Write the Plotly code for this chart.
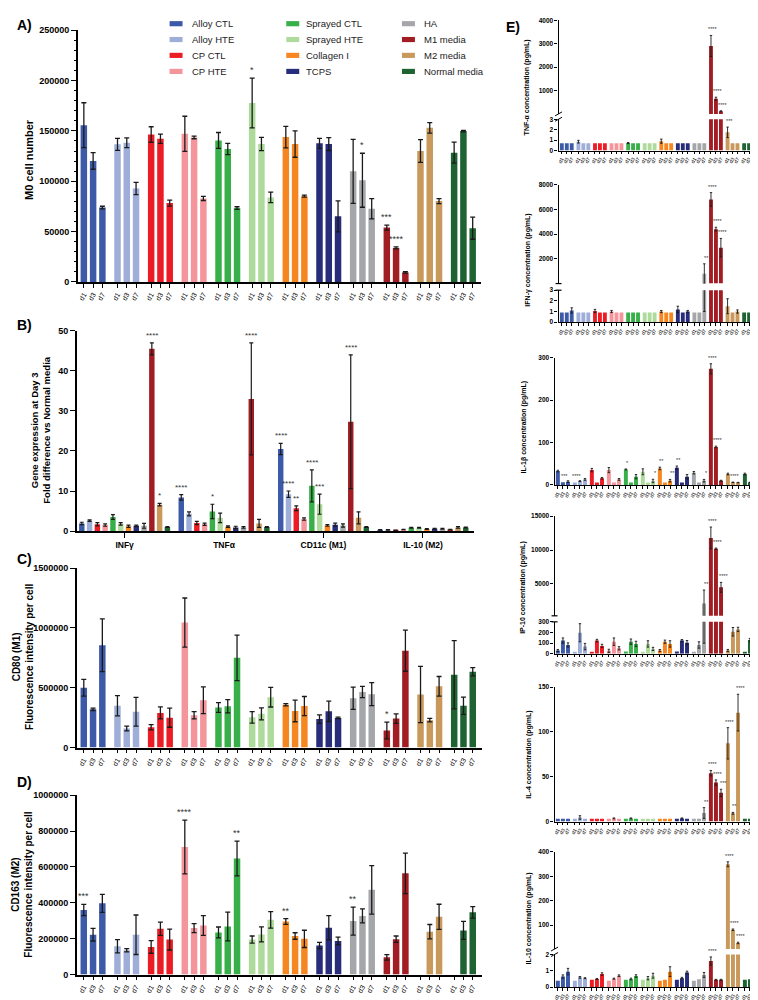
import plotly.graph_objects as go

# ---------------- DATA ----------------
groups = ["Alloy CTL", "Alloy HTE", "CP CTL", "CP HTE", "Sprayed CTL", "Sprayed HTE",
          "Collagen I", "TCPS", "HA", "M1 media", "M2 media", "Normal media"]
colors = ["#3c5aa8", "#9eaed8", "#ec1c24", "#f4959b", "#38b04a", "#aedb9c",
          "#f6861f", "#272c7b", "#a5a6a9", "#a21d23", "#c9995c", "#1e6331"]
days = ["d1", "d3", "d7"]

# A) M0 cell number
A_mean = [[155600, 120200, 73900], [136600, 138200, 92800], [146400, 142200, 78300],
          [147100, 143500, 82900], [140500, 132000, 73400], [177600, 136900, 83900],
          [143800, 136900, 85200], [137600, 136900, 65200], [109800, 101000, 72700],
          [54000, 33800, 9500], [130100, 153000, 80300], [128400, 149800, 53400]]
A_sd = [[22300, 8300, 1300], [5900, 4800, 6000], [7700, 4600, 2900],
        [17400, 1300, 2000], [7900, 5600, 1300], [24700, 6600, 5200],
        [10600, 13100, 1000], [4900, 6400, 15400], [31800, 26800, 10000],
        [2500, 1000, 700], [11300, 5200, 2500], [10500, 700, 11000]]
A_sig = {"Sprayed HTE": ["*", "", ""], "HA": ["", "*", ""], "M1 media": ["***", "****", ""]}

# B) Gene expression at day 3 (fold vs normal media)
B_cats = ["INFγ", "TNFα", "CD11c (M1)", "IL-10 (M2)"]
B_mean = [[1.9, 8.4, 20.5, 0.3], [2.6, 4.3, 9.2, 0.3], [1.7, 2.0, 5.7, 0.2],
          [1.5, 1.7, 3.0, 0.4], [3.5, 4.9, 11.3, 0.8], [1.8, 3.3, 6.7, 0.8],
          [1.2, 1.1, 1.4, 0.5], [1.3, 0.9, 1.6, 0.6], [1.3, 0.9, 1.4, 0.6],
          [45.5, 33.0, 27.3, 0.4], [6.6, 1.9, 3.3, 0.9], [1.0, 1.0, 1.0, 0.9]]
B_sd = [[0.3, 0.7, 1.4, 0.05], [0.2, 0.5, 0.8, 0.05], [0.4, 0.4, 0.6, 0.05],
        [0.3, 0.3, 0.3, 0.05], [0.6, 1.8, 4.0, 0.1], [0.3, 1.2, 2.5, 0.1],
        [0.3, 0.2, 0.2, 0.1], [0.2, 0.3, 0.4, 0.1], [0.6, 0.2, 0.4, 0.1],
        [1.5, 14.0, 16.7, 0.05], [0.3, 1.0, 1.5, 0.2], [0.1, 0.1, 0.1, 0.1]]
B_sig = {"Alloy CTL": ["", "****", "****", ""], "Alloy HTE": ["", "", "****", ""],
         "CP CTL": ["", "", "**", ""], "Sprayed CTL": ["", "*", "****", ""],
         "Sprayed HTE": ["", "", "***", ""], "M1 media": ["****", "****", "****", ""],
         "M2 media": ["*", "", "", ""]}

# C) CD80 (M1) fluorescence intensity per cell
C_mean = [[500000, 320000, 855000], [350000, 160000, 300000], [170000, 290000, 250000],
          [1045000, 270000, 395000], [335000, 345000, 750000], [253000, 282000, 421000],
          [358000, 306000, 347000], [238000, 303000, 248000], [413000, 465000, 446000],
          [142000, 242000, 810000], [444000, 229000, 512000], [609000, 350000, 634000]]
C_sd = [[70000, 10000, 220000], [85000, 20000, 120000], [22000, 50000, 80000],
        [205000, 30000, 112000], [40000, 55000, 190000], [48000, 50000, 82000],
        [10000, 90000, 80000], [35000, 85000, 6000], [93000, 47000, 96000],
        [70000, 40000, 172000], [235000, 15000, 82000], [285000, 72000, 35000]]
C_sig = {"M1 media": ["*", "", ""]}

# D) CD163 (M2) fluorescence intensity per cell
D_mean = [[360000, 222000, 397000], [158000, 136000, 222000], [154000, 255000, 195000],
          [711000, 259000, 274000], [235000, 268000, 647000], [195000, 224000, 305000],
          [296000, 215000, 199000], [162000, 261000, 187000], [298000, 327000, 472000],
          [96000, 197000, 564000], [None, 239000, 322000], [None, 246000, 347000]]
D_sd = [[31000, 35000, 50000], [37000, 9000, 110000], [35000, 37000, 58000],
        [150000, 25000, 55000], [30000, 80000, 97000], [20000, 42000, 46000],
        [16000, 18000, 48000], [17000, 68000, 22000], [78000, 39000, 135000],
        [15000, 18000, 113000], [0, 40000, 70000], [0, 50000, 32000]]
D_sig = {"Alloy CTL": ["***", "", ""], "CP HTE": ["****", "", ""], "Sprayed CTL": ["", "", "**"],
         "Collagen I": ["**", "", ""], "HA": ["**", "", ""]}

# E) Cytokine concentrations (pg/mL)
TNF_mean = [[0.7, 0.7, 0.7], [0.85, 0.7, 0.7], [0.7, 0.7, 0.7], [0.7, 0.7, 0.7],
            [0.72, 0.7, 0.7], [0.7, 0.7, 0.7], [0.9, 0.7, 0.7], [0.7, 0.7, 0.7],
            [0.7, 0.7, 0.7], [2900, 650, 115], [1.75, 0.7, 0.7], [0.7, 0.7, 0.7]]
TNF_sd = [[0, 0, 0], [0.13, 0, 0], [0, 0, 0], [0, 0, 0], [0.05, 0, 0], [0, 0, 0],
          [0.2, 0, 0], [0, 0, 0], [0, 0, 0], [450, 65, 20], [0.5, 0, 0], [0, 0, 0]]
TNF_sig = {"M1 media": ["****", "****", "****"], "M2 media": ["***", "", ""]}

IFN_mean = [[0.9, 0.9, 1.1], [0.9, 0.9, 0.9], [1.05, 0.9, 0.9], [1.0, 0.9, 0.9],
            [0.9, 0.9, 0.9], [0.9, 0.9, 0.9], [1.0, 0.9, 0.9], [1.2, 0.9, 1.0],
            [0.9, 0.9, 800], [6800, 4400, 2900], [1.5, 0.9, 1.0], [0.9, 0.9, 0.9]]
IFN_sd = [[0, 0, 0.25], [0, 0, 0], [0.15, 0, 0], [0.1, 0, 0], [0, 0, 0], [0, 0, 0],
          [0.1, 0, 0], [0.3, 0, 0.1], [0, 0, 799], [550, 150, 750], [0.7, 0, 0.15], [0, 0, 0]]
IFN_sig = {"HA": ["", "", "**"], "M1 media": ["****", "****", "****"]}

IL1B_mean = [[32.7, 6.2, 7.8], [6.0, 9.0, 13.0], [35.0, 5.5, 15.6], [35.0, 6.0, 13.0],
             [36.6, 5.5, 19.5], [31.0, 5.5, 9.3], [39.0, 6.0, 10.0], [40.5, 6.0, 19.5],
             [28.8, 5.5, 10.0], [274.0, 89.6, 10.0], [25.7, 6.2, 5.5], [25.7, 6.0, 23.4]]
IL1B_sd = [[2, 0, 2], [0, 1, 2], [4, 0, 2], [6, 0, 2], [1, 0, 5], [7, 0, 4],
           [3, 0, 3], [4, 0, 5], [3, 0, 3], [12, 2, 1], [2, 0.5, 0.5], [2, 0.5, 5]]
IL1B_sig = {"Alloy CTL": ["", "***", ""], "Alloy HTE": ["****", "", ""],
            "Sprayed CTL": ["*", "", ""], "Sprayed HTE": ["", "", "*"],
            "Collagen I": ["**", "", "**"], "TCPS": ["**", "", ""], "HA": ["", "", "*"],
            "M1 media": ["****", "****", ""], "M2 media": ["", "****", ""]}

IP10_mean = [[31, 124, 83], [15, 198, 68], [15, 124, 74], [28, 114, 52], [22, 114, 93],
             [15, 93, 46], [31, 114, 93], [22, 124, 105], [15, 83, 2100],
             [11800, 10200, 4500], [31, 207, 229], [15, 130, 136]]
IP10_sd = [[10, 25, 20], [0, 85, 30], [0, 12, 15], [15, 35, 15], [0, 25, 25],
           [0, 30, 15], [10, 15, 30], [0, 10, 20], [0, 30, 2000],
           [1600, 100, 730], [10, 40, 20], [0, 15, 60]]
IP10_sig = {"HA": ["", "", "**"], "M1 media": ["****", "****", "****"]}

IL4_mean = [[3, 3, 3], [3, 4.5, 3], [3, 3, 3], [3, 3.5, 3], [3, 3.5, 3], [3, 3, 3],
            [3, 3, 3], [3, 3.5, 3], [3, 3, 9.5], [54, 43.5, 32], [87.3, 9.2, 121.6],
            [3, 3, 3.5]]
IL4_sd = [[0, 0, 0], [0, 2, 0], [0, 0, 0], [0, 0.5, 0], [0, 0.5, 0], [0, 0, 0],
          [0, 0, 0], [0, 0.5, 0], [0, 0, 6], [3, 3, 4], [17.5, 1, 20.5], [0, 0, 0.5]]
IL4_sig = {"HA": ["", "", "**"], "M1 media": ["****", "****", "***"],
           "M2 media": ["****", "**", "****"]}

IL10_mean = [[0.4, 0.65, 0.95], [0.4, 0.6, 0.55], [0.45, 0.5, 0.8], [0.4, 0.52, 0.7],
             [0.45, 0.5, 0.68], [0.45, 0.55, 0.7], [0.4, 0.45, 0.95], [0.45, 0.55, 0.9],
             [0.4, 0.48, 0.75], [1.6, 0.45, 0.45], [349, 81, 27], [0.45, 0.48, 0.75]]
IL10_sd = [[0, 0.1, 0.2], [0, 0.05, 0.03], [0, 0.03, 0.08], [0, 0.03, 0.05],
           [0, 0.05, 0.08], [0, 0.1, 0.15], [0, 0, 0.3], [0, 0.05, 0.08],
           [0, 0, 0.15], [0.25, 0.03, 0.03], [10, 3, 3], [0, 0, 0.05]]
IL10_sig = {"M1 media": ["****", "", ""], "M2 media": ["****", "****", "****"]}

# ---------------- LAYOUT HELPERS ----------------
W, H = 758, 1000
FONT = "Liberation Sans, Arial, Helvetica, sans-serif"
ERR = "#1a1a1a"


def fx(p):
    return p / W


def fy(p):
    return 1 - p / H


fig = go.Figure()
lay = {}
ann = []
shapes = []
ax_n = [0]


def new_axes(xd, yd):
    ax_n[0] += 1
    n = ax_n[0]
    s = "" if n == 1 else str(n)
    xd["anchor"] = "y" + s
    yd["anchor"] = "x" + s
    lay["xaxis" + s] = xd
    lay["yaxis" + s] = yd
    return "x" + s, "y" + s


def base_axis(lw):
    return dict(showline=True, linecolor="black", linewidth=lw, showgrid=False,
                zeroline=False, ticks="outside", tickcolor="black", fixedrange=True)


def add_bars(xr, yr, xs, ys, sds, color, width, eth, ew, vmin=None):
    keep = [i for i in range(len(xs)) if ys[i] is not None and (vmin is None or ys[i] > vmin)]
    idx_e = [i for i in keep if sds[i]]
    idx_n = [i for i in keep if not sds[i]]
    if idx_e:
        fig.add_trace(go.Bar(
            x=[xs[i] for i in idx_e], y=[ys[i] for i in idx_e], width=width,
            marker=dict(color=color, line=dict(width=0)),
            error_y=dict(type="data", array=[sds[i] for i in idx_e], color=ERR,
                         thickness=eth, width=ew),
            xaxis=xr, yaxis=yr, hoverinfo="skip", showlegend=False))
    if idx_n:
        fig.add_trace(go.Bar(
            x=[xs[i] for i in idx_n], y=[ys[i] for i in idx_n], width=width,
            marker=dict(color=color, line=dict(width=0)),
            xaxis=xr, yaxis=yr, hoverinfo="skip", showlegend=False))


def add_star(xr, yr, x, y, text, size, xshift=0, yshift=0):
    ann.append(dict(x=x, y=y, xref=xr, yref=yr, text=text, showarrow=False,
                    xanchor="center", yanchor="bottom", xshift=xshift, yshift=yshift,
                    font=dict(family=FONT, size=size, color="#333333")))


def ytitle(text, x, y, size, bold=True):
    ann.append(dict(x=fx(x), y=fy(y), xref="paper", yref="paper", text=text,
                    showarrow=False, textangle=-90, xanchor="center", yanchor="middle",
                    font=dict(family=FONT, size=size, color="black",
                              weight="bold" if bold else "normal")))


# ---------------- PANELS A, C, D (12 groups x 3 days) ----------------
GAP3 = 3.63


def tri_panel(mean, sd, sig, ydom_px, yrange, dtick, xrange_, xdom_px, minor=None):
    tickvals = [g * GAP3 + k for g in range(len(groups)) for k in range(3)]
    ticktext = [days[k] for g in range(len(groups)) for k in range(3)]
    xd = base_axis(1.5)
    xd.update(domain=[fx(xdom_px[0]), fx(xdom_px[1])], range=xrange_, tickvals=tickvals,
              ticktext=ticktext, tickangle=-60, ticklen=4, tickwidth=1,
              tickfont=dict(family=FONT, size=7, color="black"))
    yd = base_axis(1.5)
    yd.update(domain=[fy(ydom_px[0]), fy(ydom_px[1])], range=yrange, tick0=0, dtick=dtick,
              tickformat="d", ticklen=5, tickwidth=1.2,
              tickfont=dict(family=FONT, size=9, color="black", weight="bold"))
    if minor:
        yd["minor"] = dict(ticks="outside", dtick=minor, ticklen=2.5, tickwidth=1,
                           tickcolor="black")
    xr, yr = new_axes(xd, yd)
    for g, name in enumerate(groups):
        xs = [g * GAP3 + k for k in range(3)]
        add_bars(xr, yr, xs, mean[g], sd[g], colors[g], 0.7, 1.3, 2.5)
        if name in sig:
            for k, t in enumerate(sig[name]):
                if t and mean[g][k] is not None:
                    add_star(xr, yr, xs[k], mean[g][k] + sd[g][k], t, 9, yshift=1)


tri_panel(A_mean, A_sd, A_sig, (271.7, 17.3), [0, 250000], 50000, [-0.65, 42.8],
          (68, 472), minor=10000)
tri_panel(C_mean, C_sd, C_sig, (742, 560.7), [0, 1500000], 500000, [-0.75, 42.9],
          (67, 473))
tri_panel(D_mean, D_sd, D_sig, (971.3, 790), [0, 1000000], 200000, [-0.75, 42.9],
          (67, 473))

# ---------------- PANEL B ----------------
GAPB = 12.78
xd = base_axis(1.5)
xd.update(domain=[fx(67), fx(465)], range=[-0.64, 50.37],
          tickvals=[c * GAPB + 5.5 for c in range(len(B_cats))], ticktext=B_cats,
          tickangle=0, ticklen=5, tickwidth=1.2,
          tickfont=dict(family=FONT, size=8.5, color="black", weight="bold"))
yd = base_axis(1.5)
yd.update(domain=[fy(523.3), fy(321)], range=[0, 50], tick0=0, dtick=10, ticklen=5,
          tickwidth=1.2, tickfont=dict(family=FONT, size=9, color="black", weight="bold"))
xrB, yrB = new_axes(xd, yd)
for g, name in enumerate(groups):
    xs = [c * GAPB + g for c in range(len(B_cats))]
    add_bars(xrB, yrB, xs, B_mean[g], B_sd[g], colors[g], 0.7, 1.2, 2)
    if name in B_sig:
        for c, t in enumerate(B_sig[name]):
            if t:
                add_star(xrB, yrB, xs[c], B_mean[g][c] + B_sd[g][c], t, 8, yshift=1)

# ---------------- PANEL E (cytokines) ----------------
GAPE = 3.35
NE = 11 * GAPE + 2
XR_E = 750

E_panels = [
    dict(title="TNF-α concentration (pg/mL)", mean=TNF_mean, sd=TNF_sd, sig=TNF_sig,
         xl=550, b0=553.3, b1=746, lo=((139, 107.3), [0, 3], [0, 1, 2, 3]),
         hi=((101.9, 7.3), [3, 4000], [1000, 2000, 3000, 4000]), ty=(518.5, 75), brk="slash"),
    dict(title="IFN-γ concentration (pg/mL)", mean=IFN_mean, sd=IFN_sd, sig=IFN_sig,
         xl=550, b0=553.3, b1=746, lo=((312.3, 280), [0, 3], [0, 1, 2, 3]),
         hi=((273.3, 173.3), [3, 8000], [2000, 4000, 6000, 8000]), ty=(518.5, 250), brk="cap"),
    dict(title="IL-1β concentration (pg/mL)", mean=IL1B_mean, sd=IL1B_sd, sig=IL1B_sig,
         xl=546, b0=549.3, b1=747, lo=((476.7, 348.3), [0, 300], [0, 100, 200, 300]),
         hi=None, ty=(515, 418), brk=None),
    dict(title="IP-10 concentration (pg/mL)", mean=IP10_mean, sd=IP10_sd, sig=IP10_sig,
         xl=546, b0=549.3, b1=747, lo=((647.3, 615), [0, 300], [0, 100, 200, 300]),
         hi=((608.9, 508.3), [300, 15000], [5000, 10000, 15000]), ty=(515, 580), brk="cap"),
    dict(title="IL-4 concentration (pg/mL)", mean=IL4_mean, sd=IL4_sd, sig=IL4_sig,
         xl=546, b0=549.3, b1=747, lo=((816.7, 681), [0, 150], [0, 50, 100, 150]),
         hi=None, ty=(519.5, 749), brk=None),
    dict(title="IL-10 concentration (pg/mL)", mean=IL10_mean, sd=IL10_sd, sig=IL10_sig,
         xl=546, b0=549.3, b1=747, lo=((984, 951), [0, 2], [0, 1, 2]),
         hi=((945.5, 847.3), [2, 400], [100, 200, 300, 400]), ty=(520, 915), brk="slash"),
]

for P in E_panels:
    unit = (P["b1"] - P["b0"]) / NE
    xrng = [(P["xl"] - P["b0"]) / unit, NE + (XR_E - P["b1"]) / unit]
    xdom = [fx(P["xl"]), fx(XR_E)]
    tickvals = [g * GAPE + k for g in range(len(groups)) for k in range(3)]
    ticktext = [days[k] for g in range(len(groups)) for k in range(3)]
    tf = dict(family=FONT, size=6.5, color="black", weight="bold")
    # lower (or single) segment
    (lb, lt), lrng, lticks = P["lo"]
    xd = base_axis(1.2)
    xd.update(domain=xdom, range=xrng, tickvals=tickvals, ticktext=ticktext, tickangle=-60,
              ticklen=2.5, tickwidth=0.8, tickfont=dict(family=FONT, size=5, color="black"))
    yd = base_axis(1.2)
    yd.update(domain=[fy(lb), fy(lt)], range=lrng, tickvals=lticks, tickformat="d",
              ticklen=3, tickwidth=1, tickfont=tf)
    xlo, ylo = new_axes(xd, yd)
    segs = [(xlo, ylo, lrng)]
    if P["hi"]:
        (hb, ht), hrng, hticks = P["hi"]
        xd2 = dict(domain=xdom, range=xrng, visible=False, fixedrange=True)
        yd2 = base_axis(1.2)
        yd2.update(domain=[fy(hb), fy(ht)], range=hrng, tickvals=hticks, tickformat="d",
                   ticklen=3, tickwidth=1, tickfont=tf)
        xhi, yhi = new_axes(xd2, yd2)
        segs.append((xhi, yhi, hrng))
    for g, name in enumerate(groups):
        xs = [g * GAPE + k for k in range(3)]
        for si, (xr, yr, rng) in enumerate(segs):
            add_bars(xr, yr, xs, P["mean"][g], P["sd"][g], colors[g], 0.78, 0.9, 1.2,
                     vmin=(rng[0] if si == 1 else None))
        if name in P["sig"]:
            for k, t in enumerate(P["sig"][name]):
                if not t:
                    continue
                top = P["mean"][g][k] + P["sd"][g][k]
                xr, yr = segs[0][0], segs[0][1]
                if len(segs) > 1 and top > segs[0][2][1]:
                    xr, yr = segs[1][0], segs[1][1]
                add_star(xr, yr, xs[k], top, t, 5.5, xshift=2, yshift=1)
    ytitle(P["title"], P["ty"][0], P["ty"][1], 7)
    # axis break marks
    if P["brk"] == "slash":
        (hb, ht) = P["hi"][0]
        (lb, lt) = P["lo"][0]
        for yy in (hb, lt):
            shapes.append(dict(type="line", xref="paper", yref="paper",
                               x0=fx(P["xl"] - 3.5), x1=fx(P["xl"] + 3.5),
                               y0=fy(yy + 2), y1=fy(yy - 2),
                               line=dict(color="black", width=1)))
    elif P["brk"] == "cap":
        (hb, ht) = P["hi"][0]
        (lb, lt) = P["lo"][0]
        for yy in (hb, lt):
            shapes.append(dict(type="line", xref="paper", yref="paper",
                               x0=fx(P["xl"] - 3), x1=fx(P["xl"] + 3),
                               y0=fy(yy), y1=fy(yy), line=dict(color="black", width=1.2)))

# ---------------- TEXT: titles, panel labels, legend ----------------
ytitle("M0 cell number", 18.5, 148, 11)
ytitle("Gene expression at Day 3<br>Fold difference vs Normal media", 31, 421, 9.5)
ytitle("CD80 (M1)<br>Fluorescence intensity per cell", 12.5, 650, 10)
ytitle("CD163 (M2)<br>Fluorescence intensity per cell", 12.5, 880, 10)

for lbl, (lx, ly) in {"A)": (5, 2), "B)": (5, 305), "C)": (5, 541), "D)": (5, 767),
                      "E)": (495, 4)}.items():
    ann.append(dict(x=fx(lx), y=fy(ly), xref="paper", yref="paper", text=lbl,
                    showarrow=False, xanchor="left", yanchor="top",
                    font=dict(family=FONT, size=14, color="black", weight="bold")))

leg_cols = [(160, 180), (277, 295), (393, 413)]
leg_rows = [10.8, 26.8, 42.8, 59]
for i, name in enumerate(groups):
    c, r = divmod(i, 4)
    sx, tx = leg_cols[c]
    yy = leg_rows[r]
    shapes.append(dict(type="rect", xref="paper", yref="paper", x0=fx(sx), x1=fx(sx + 13),
                       y0=fy(yy + 2.6), y1=fy(yy - 2.6), fillcolor=colors[i],
                       line=dict(width=0)))
    ann.append(dict(x=fx(tx), y=fy(yy), xref="paper", yref="paper", text=name,
                    showarrow=False, xanchor="left", yanchor="middle",
                    font=dict(family=FONT, size=9.5, color="#222222")))

fig.update_layout(width=W, height=H, margin=dict(l=0, r=0, t=0, b=0),
                  paper_bgcolor="white", plot_bgcolor="white", showlegend=False,
                  barmode="overlay", font=dict(family=FONT, color="black"),
                  annotations=ann, shapes=shapes, **lay)
fig.write_html("out.html")
